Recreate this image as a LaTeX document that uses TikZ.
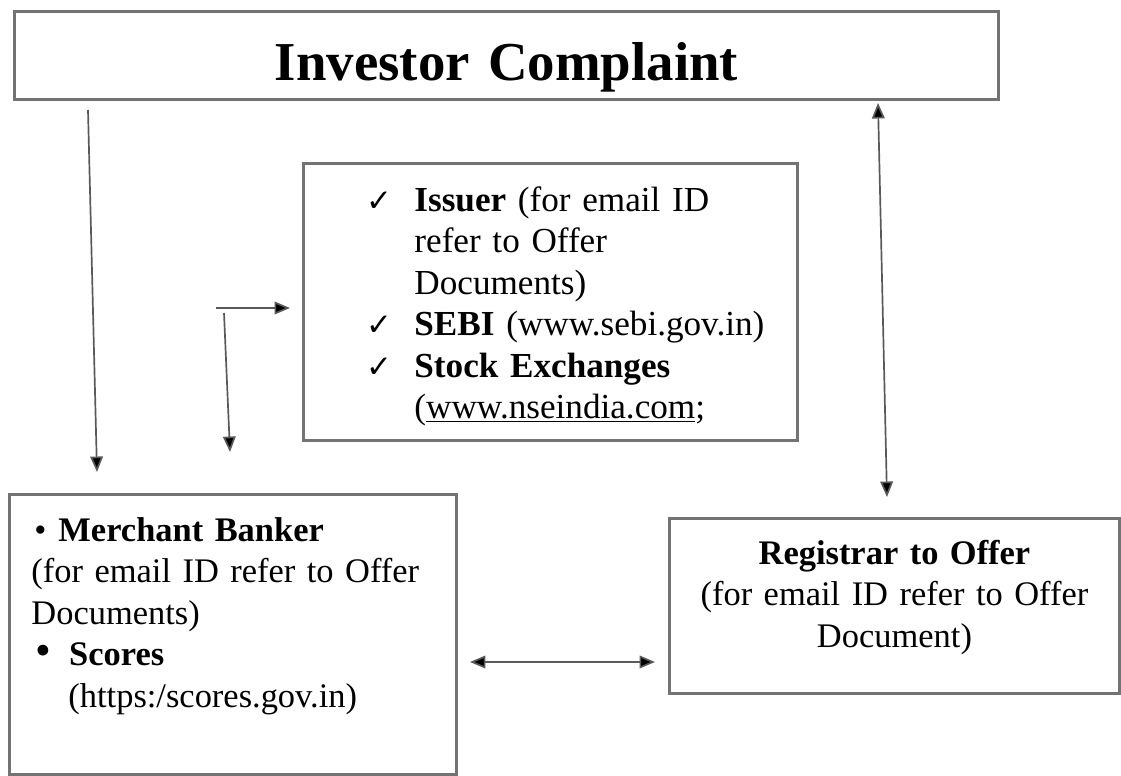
\documentclass[tikz,border=0pt]{standalone}
\usepackage{fontspec}
\setmainfont{Liberation Serif}
\newfontfamily\symfont{DejaVu Sans}
\usepackage{tikz}
\usetikzlibrary{arrows.meta, positioning}

\newcommand{\chk}{\leavevmode\llap{{\symfont\fontsize{22}{22}\selectfont ✓}\hspace{0.55cm}}}

\begin{document}
\begin{tikzpicture}[x=0.025cm, y=-0.025cm, >={Triangle[length=11pt, width=9pt]}, font=\fontsize{25}{29.5}\selectfont]
\tikzstyle{box} = [draw=black!55, line width=2pt, anchor=north west, inner xsep=0.25cm, inner ysep=0pt]
\tikzstyle{link} = [draw=black!65, line width=1.2pt]

\useasboundingbox (0,0) rectangle (1121,776);

\node[box, align=center, text width=24.1cm, text height=1.725cm, text depth=0.475cm, font=\fontsize{39}{45}\selectfont\bfseries] at (13,10) (inv) {Investor Complaint};
\node[box, align=left, text width=11.85cm, text height=1.2cm, text depth=5.725cm] at (302,162) (list) {\leftskip=2.525cm
\chk\textbf{Issuer} (for email ID\\
refer to Offer\\
Documents)\\
\chk\textbf{SEBI} (www.sebi.gov.in)\\
\chk\textbf{Stock Exchanges}\\
(\underline{www.nseindia.com};\par};
\node[box, align=left, text width=10.675cm, text height=1.175cm, text depth=5.825cm, font=\fontsize{24.5}{29.5}\selectfont] at (8,493) (mb) {\leftskip=0.3cm
\hspace*{0.075cm}\textbullet\hspace{0.3cm}\textbf{Merchant Banker}\\
(for email ID refer to Offer\\
Documents)\\
\hspace*{0.1cm}{\fontsize{32}{32}\selectfont\textbullet}\hspace{0.45cm}\textbf{Scores}\\
\hspace*{0.925cm}(https:/scores.gov.in)\par};
\node[box, align=center, text width=10.75cm, text height=1.15cm, text depth=3.225cm, font=\fontsize{24.5}{29.5}\selectfont] at (668,517) (rta) {\textbf{Registrar to Offer}\\
(for email ID refer to Offer\\
Document)};

\coordinate (l1) at (88,110);
\coordinate (l2) at (97,472);
\coordinate (s0) at (216,308);
\coordinate (s1) at (290,308);
\coordinate (s2) at (224,313);
\coordinate (s3) at (230,452);
\coordinate (r1) at (878,103);
\coordinate (r2) at (887,497);
\coordinate (b1) at (470,662);
\coordinate (b2) at (655,662);

\path[link]
(l1)	edge[->]	(l2)
(s0)	edge[->]	(s1)
(s2)	edge[->]	(s3)
(r1)	edge[<->]	(r2)
(b1)	edge[<->]	(b2);
\end{tikzpicture}
\end{document}
